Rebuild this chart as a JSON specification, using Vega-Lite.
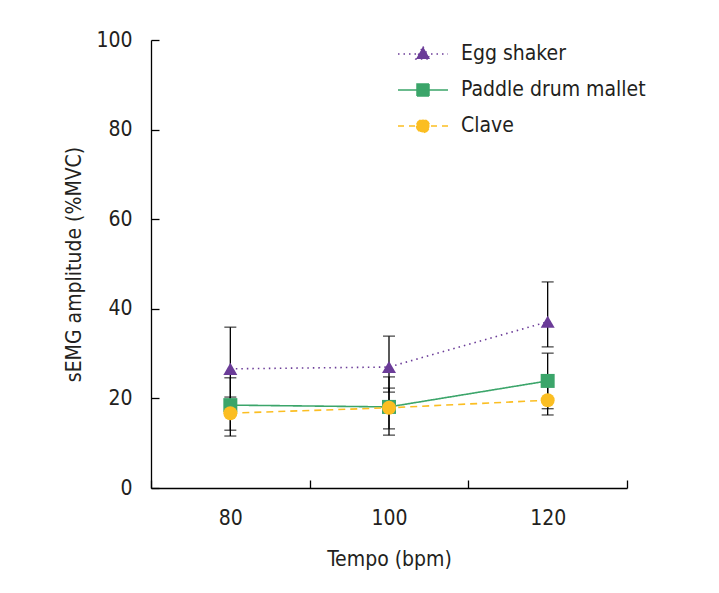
{
  "$schema": "https://vega.github.io/schema/vega-lite/v6.json",
  "width": 476,
  "height": 448,
  "autosize": "none",
  "padding": {"left": 151, "top": 40, "right": 92, "bottom": 105},
  "background": "white",
  "config": {
    "font": "DejaVu Sans Condensed, Roboto Condensed, Liberation Sans, sans-serif",
    "view": {"stroke": null},
    "axis": {
      "grid": false,
      "domainColor": "#000000",
      "domainWidth": 1.3,
      "tickColor": "#000000",
      "tickWidth": 1.3,
      "labelColor": "#231f20",
      "titleColor": "#231f20",
      "labelFontSize": 21,
      "titleFontSize": 21,
      "titleFontWeight": "normal",
      "labelFont": "DejaVu Sans Condensed, Roboto Condensed, Liberation Sans, sans-serif",
      "titleFont": "DejaVu Sans Condensed, Roboto Condensed, Liberation Sans, sans-serif"
    }
  },
  "resolve": {"legend": {"color": "independent"}},
  "data": {
    "values": [
      {"tempo": 80, "series": "Egg shaker", "mean": 26.6, "lo": 17.3, "hi": 35.9},
      {"tempo": 100, "series": "Egg shaker", "mean": 27.0, "lo": 21.4, "hi": 33.9},
      {"tempo": 120, "series": "Egg shaker", "mean": 37.1, "lo": 31.5, "hi": 46.0},
      {"tempo": 80, "series": "Paddle drum mallet", "mean": 18.5, "lo": 11.6, "hi": 24.6},
      {"tempo": 100, "series": "Paddle drum mallet", "mean": 18.1, "lo": 11.8, "hi": 24.8},
      {"tempo": 120, "series": "Paddle drum mallet", "mean": 23.9, "lo": 17.7, "hi": 30.1},
      {"tempo": 80, "series": "Clave", "mean": 16.7, "lo": 12.9, "hi": 20.3},
      {"tempo": 100, "series": "Clave", "mean": 17.9, "lo": 13.2, "hi": 22.3},
      {"tempo": 120, "series": "Clave", "mean": 19.6, "lo": 16.3, "hi": 22.9}
    ]
  },
  "encoding": {
    "x": {
      "field": "tempo",
      "type": "ordinal",
      "scale": {"type": "band", "paddingInner": 0, "paddingOuter": 0},
      "axis": {
        "title": "Tempo (bpm)",
        "labelAngle": 0,
        "tickBand": "extent",
        "tickSize": -8,
        "labelPadding": 27,
        "titlePadding": 20
      }
    }
  },
  "layer": [
    {
      "mark": {"type": "line", "strokeWidth": 1.6},
      "encoding": {
        "y": {
          "field": "mean",
          "type": "quantitative",
          "scale": {"domain": [0, 100], "nice": false},
          "axis": {
            "title": "sEMG amplitude (%MVC)",
            "values": [0, 20, 40, 60, 80, 100],
            "tickSize": -8,
            "labelPadding": 27,
            "titlePadding": 11
          }
        },
        "color": {
          "field": "series",
          "type": "nominal",
          "scale": {"domain": ["Egg shaker", "Paddle drum mallet", "Clave"], "range": ["#6b3c98", "#3ba56a", "#fbbe22"]},
          "legend": {
            "title": null,
            "orient": "none",
            "legendX": 246,
            "legendY": -12,
            "padding": 0,
            "symbolSize": 2500,
            "rowPadding": -8,
            "labelOffset": 12,
            "labelFontSize": 21,
            "labelFont": "DejaVu Sans Condensed, Roboto Condensed, Liberation Sans, sans-serif",
            "labelColor": "#231f20",
            "labelLimit": 400,
            "encode": {
              "symbols": {
                "update": {
                  "shape": {"signal": "datum.value === 'Egg shaker' ? 'M-1,0H1M0,-0.3L0.28,0.2L-0.28,0.2Z' : datum.value === 'Paddle drum mallet' ? 'M-1,0H1M-0.24,-0.24H0.24V0.24H-0.24Z' : 'M-1,0H1M-0.26,0A0.26,0.26,0,1,0,0.26,0A0.26,0.26,0,1,0,-0.26,0Z'"},
                  "strokeDash": {"signal": "datum.value === 'Egg shaker' ? [1.5,4] : datum.value === 'Clave' ? [6,5] : [1,0]"},
                  "fill": {"signal": "scale('color', datum.value)"},
                  "stroke": {"signal": "scale('color', datum.value)"},
                  "strokeWidth": {"value": 1.5},
                  "opacity": {"value": 1},
                  "fillOpacity": {"value": 1}
                }
              }
            }
          }
        },
        "strokeDash": {
          "field": "series",
          "type": "nominal",
          "scale": {"domain": ["Egg shaker", "Paddle drum mallet", "Clave"], "range": [[1.5, 4], [1, 0], [7, 5]]},
          "legend": null
        }
      }
    },
    {
      "mark": {"type": "rule", "color": "#000000", "strokeWidth": 1.3},
      "encoding": {
        "y": {"field": "lo", "type": "quantitative"},
        "y2": {"field": "hi"}
      }
    },
    {
      "mark": {"type": "tick", "color": "#000000", "size": 12, "thickness": 1.3},
      "encoding": {
        "y": {"field": "lo", "type": "quantitative"}
      }
    },
    {
      "mark": {"type": "tick", "color": "#000000", "size": 12, "thickness": 1.3},
      "encoding": {
        "y": {"field": "hi", "type": "quantitative"}
      }
    },
    {
      "mark": {"type": "point", "filled": true, "size": 196, "opacity": 1},
      "encoding": {
        "y": {"field": "mean", "type": "quantitative"},
        "shape": {
          "field": "series",
          "type": "nominal",
          "scale": {"domain": ["Egg shaker", "Paddle drum mallet", "Clave"], "range": ["triangle-up", "square", "circle"]},
          "legend": null
        },
        "color": {
          "field": "series",
          "type": "nominal",
          "legend": null
        }
      }
    }
  ]
}
